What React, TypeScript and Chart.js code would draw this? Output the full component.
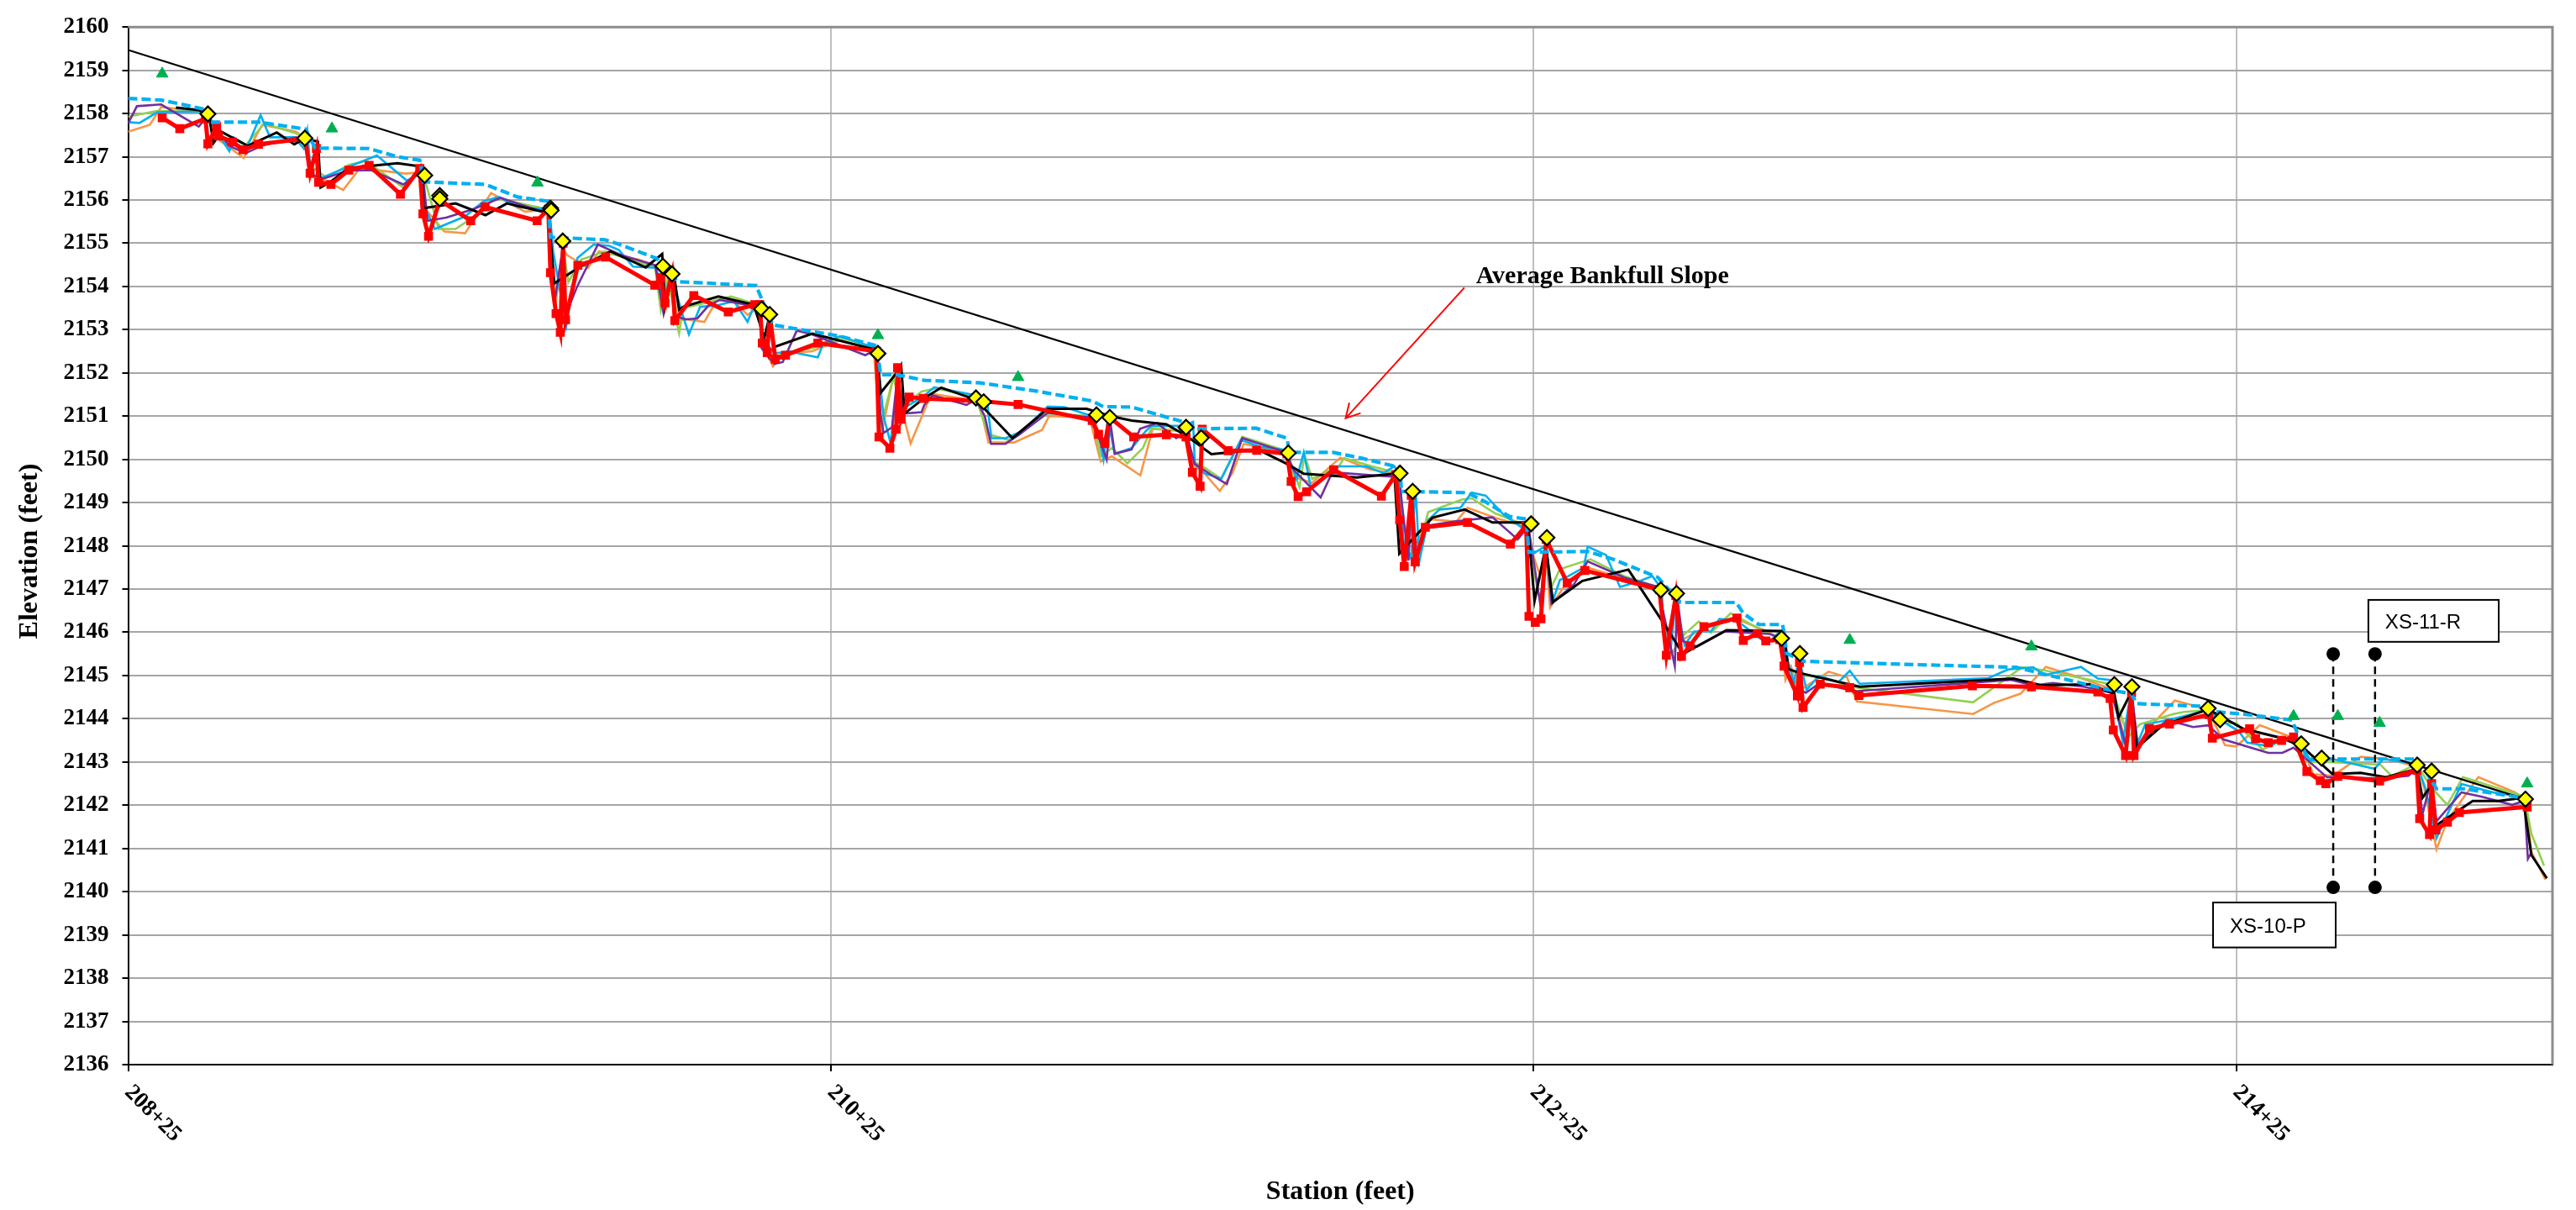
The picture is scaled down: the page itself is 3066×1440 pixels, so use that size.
import React, { useEffect, useRef } from "react";
import { Chart, registerables } from "chart.js";

Chart.register(...registerables);

// ---------- axis ----------
const xMin = 20825;
const xMax = 21515;
const yMin = 2136;
const yMax = 2160;
const xTickValues = [20825, 21025, 21225, 21425];
const xTickLabels = ["208+25", "210+25", "212+25", "214+25"];

// ---------- series: red thalweg (squares) ----------
const redX = [20834.7,20839.7,20847.0,20847.7,20850.2,20850.7,20854.7,20857.7,20862.1,20875.4,20876.8,20878.6,20879.2,20882.7,20887.8,20893.6,20902.5,20908.0,20908.9,20910.5,20913.7,20922.5,20926.6,20941.4,20944.6,20945.2,20946.8,20948.0,20948.8,20949.5,20953.0,20960.9,20974.9,20976.6,20977.8,20979.8,20980.6,20986.0,20995.8,21003.3,21004.8,21005.5,21006.9,21007.6,21009.2,21012.1,21021.3,21038.0,21038.7,21041.8,21043.6,21044.0,21045.0,21047.3,21051.3,21067.5,21078.3,21099.4,21101.2,21103.0,21104.4,21111.2,21120.5,21126.1,21127.9,21130.1,21130.7,21138.1,21146.2,21154.8,21156.0,21158.0,21160.4,21168.1,21181.7,21185.8,21186.9,21188.2,21190.2,21191.3,21194.2,21206.2,21218.4,21222.9,21223.7,21225.5,21227.1,21228.6,21234.6,21239.6,21260.8,21262.8,21265.5,21267.1,21269.5,21273.5,21282.9,21284.7,21288.7,21291.1,21295.1,21296.3,21300.1,21300.7,21301.7,21306.6,21315.0,21317.6,21349.9,21366.7,21385.6,21389.1,21390.0,21393.5,21395.2,21395.9,21400.3,21406.0,21417.2,21418.2,21428.8,21430.5,21434.1,21437.9,21441.3,21445.1,21448.9,21450.5,21453.9,21465.8,21476.4,21477.2,21480.0,21480.6,21481.8,21485.1,21488.5,21507.8];
const redY = [2157.90,2157.65,2157.88,2157.30,2157.70,2157.48,2157.34,2157.16,2157.29,2157.42,2156.62,2157.19,2156.41,2156.36,2156.69,2156.80,2156.13,2156.73,2155.68,2155.16,2156.00,2155.52,2155.84,2155.52,2155.79,2154.32,2153.37,2152.94,2155.00,2153.23,2154.49,2154.68,2154.03,2154.20,2153.62,2154.29,2153.21,2153.79,2153.41,2153.58,2153.58,2152.69,2152.47,2153.35,2152.32,2152.41,2152.69,2152.50,2150.52,2150.26,2150.70,2152.12,2150.93,2151.44,2151.41,2151.35,2151.27,2150.90,2150.58,2150.37,2150.97,2150.52,2150.57,2150.52,2149.70,2149.38,2150.70,2150.20,2150.21,2150.13,2149.49,2149.14,2149.25,2149.76,2149.15,2149.65,2148.60,2147.52,2149.17,2147.63,2148.43,2148.54,2148.04,2148.47,2146.37,2146.23,2146.31,2148.15,2147.14,2147.43,2146.99,2145.47,2146.85,2145.44,2145.69,2146.13,2146.33,2145.81,2145.97,2145.80,2145.83,2145.22,2144.53,2145.30,2144.26,2144.80,2144.72,2144.54,2144.76,2144.74,2144.62,2144.47,2143.74,2143.15,2144.60,2143.15,2143.77,2143.88,2144.10,2143.55,2143.77,2143.54,2143.45,2143.50,2143.58,2142.78,2142.57,2142.50,2142.67,2142.56,2142.81,2141.69,2141.32,2142.50,2141.43,2141.61,2141.83,2141.96];

// ---------- series: black profile ----------
const blackX = [20838.6,20845.1,20848.0,20849.3,20851.5,20859.0,20867.3,20872.3,20875.2,20879.0,20879.8,20882.6,20887.8,20901.7,20908.6,20909.1,20918.2,20926.7,20932.8,20944.6,20946.3,20953.1,20962.3,20972.3,20977.0,20977.8,20980.2,20981.8,20983.0,20993.0,21003.0,21006.1,21007.5,21008.9,21019.7,21038.0,21039.2,21043.6,21045.0,21046.0,21051.6,21056.4,21066.3,21076.7,21086.7,21097.8,21104.6,21110.6,21120.5,21126.1,21133.3,21138.1,21146.5,21155.2,21159.6,21168.0,21174.7,21185.4,21186.8,21196.2,21205.4,21213.3,21223.3,21225.3,21228.5,21230.5,21238.9,21252.0,21262.0,21264.0,21267.5,21279.9,21296.3,21297.5,21300.7,21317.8,21361.6,21369.6,21383.2,21390.3,21391.5,21395.0,21396.7,21403.9,21417.0,21427.0,21438.1,21443.7,21452.4,21460.4,21467.6,21476.4,21478.0,21480.7,21481.8,21492.3,21499.5,21506.6,21509.0,21513.4];
const blackY = [2158.14,2158.08,2157.95,2157.32,2157.58,2157.25,2157.56,2157.29,2157.42,2157.35,2156.29,2156.42,2156.74,2156.85,2156.77,2155.81,2155.92,2155.65,2155.92,2155.70,2154.07,2154.43,2154.81,2154.44,2154.75,2153.53,2154.36,2153.46,2153.53,2153.77,2153.58,2152.82,2153.30,2152.60,2152.91,2152.53,2151.54,2151.99,2152.18,2151.06,2151.42,2151.66,2151.38,2150.49,2151.17,2151.17,2151.00,2150.90,2150.81,2150.55,2150.12,2150.16,2150.23,2149.88,2149.67,2149.62,2149.58,2149.67,2147.82,2148.65,2148.84,2148.54,2148.54,2146.73,2148.00,2146.70,2147.19,2147.45,2146.21,2145.96,2145.50,2146.05,2146.03,2145.15,2145.06,2144.74,2144.93,2144.77,2144.80,2144.58,2144.03,2144.60,2143.33,2143.84,2144.22,2143.77,2143.55,2143.36,2142.72,2142.75,2142.65,2142.84,2142.17,2142.49,2141.53,2142.10,2142.10,2142.17,2140.85,2140.31];

// ---------- series: water surface (cyan dashed) ----------
const wsX = [20825.0,20834.4,20840.0,20847.7,20848.3,20862.2,20875.5,20878.2,20893.6,20901.7,20908.0,20909.1,20926.7,20935.8,20944.6,20945.2,20960.7,20963.9,20975.4,20981.4,21003.7,21008.5,21027.6,21038.0,21039.2,21043.6,21051.6,21067.5,21083.5,21099.4,21102.6,21110.6,21126.5,21128.9,21146.1,21154.8,21155.6,21168.0,21176.0,21187.0,21187.4,21206.2,21211.7,21218.1,21222.9,21223.7,21240.4,21247.6,21260.4,21262.8,21266.8,21282.7,21284.7,21289.1,21295.9,21297.1,21301.9,21330.6,21362.4,21388.7,21395.1,21396.7,21415.0,21417.0,21427.7,21440.9,21445.3,21476.4,21478.7,21482.0,21489.9,21505.8];
const wsY = [2158.35,2158.31,2158.22,2158.08,2157.80,2157.80,2157.64,2157.20,2157.19,2157.00,2156.92,2156.42,2156.36,2156.07,2155.97,2155.14,2155.08,2155.00,2154.65,2154.11,2154.02,2153.11,2152.85,2152.63,2151.96,2151.96,2151.83,2151.77,2151.58,2151.35,2151.22,2151.21,2150.84,2150.71,2150.72,2150.49,2150.16,2150.16,2150.03,2149.81,2149.26,2149.23,2149.00,2148.68,2148.62,2147.85,2147.87,2147.69,2147.27,2147.05,2146.69,2146.69,2146.44,2146.18,2146.18,2145.51,2145.33,2145.26,2145.19,2144.67,2144.58,2144.35,2144.29,2144.18,2144.10,2143.97,2143.07,2143.07,2142.81,2142.38,2142.38,2142.18];

// ---------- series: diamonds ----------
const diamondX = [20847.7,20875.3,20909.4,20913.7,20913.7,20945.2,20945.4,20948.7,20977.2,20979.8,21005.3,21007.6,21038.4,21066.3,21068.5,21100.6,21104.4,21126.1,21130.4,21155.2,21187.0,21190.6,21224.3,21228.8,21261.2,21265.7,21295.6,21300.8,21390.3,21395.3,21417.0,21420.4,21443.5,21449.3,21476.5,21480.6,21507.3];
const diamondY = [2157.99,2157.43,2156.57,2156.10,2156.03,2155.81,2155.76,2155.05,2154.47,2154.29,2153.48,2153.35,2152.45,2151.42,2151.33,2151.03,2150.97,2150.74,2150.50,2150.15,2149.68,2149.26,2148.51,2148.19,2146.98,2146.90,2145.86,2145.51,2144.79,2144.74,2144.24,2143.98,2143.42,2143.09,2142.93,2142.79,2142.14];

// ---------- series: triangles ----------
const triangleX = [20834.7,20883.0,20941.5,21038.4,21078.3,21315.0,21366.7,21441.3,21453.9,21465.8,21507.8];
const triangleY = [2158.92,2157.65,2156.40,2152.87,2151.90,2145.82,2145.67,2144.06,2144.06,2143.90,2142.50];

// ---------- series: orange ----------
const orangeX = [20825.0,20831.2,20834.4,20846.1,20848.8,20851.0,20857.9,20863.2,20872.8,20876.0,20876.6,20880.3,20886.2,20891.0,20903.8,20908.6,20909.7,20915.0,20920.9,20928.3,20937.9,20944.9,20945.4,20946.7,20948.7,20950.0,20955.9,20959.0,20970.3,20976.2,20978.2,20979.8,20981.4,20983.8,20989.0,20992.6,20997.4,21001.3,21004.5,21005.7,21008.5,21011.7,21019.7,21027.6,21037.2,21039.2,21042.8,21045.2,21047.7,21052.4,21054.0,21067.1,21069.9,21077.1,21085.1,21087.1,21098.6,21101.8,21105.0,21113.1,21116.6,21126.1,21128.1,21131.3,21135.7,21139.3,21142.5,21155.2,21156.5,21162.0,21170.0,21178.3,21186.6,21188.0,21189.5,21191.0,21195.0,21203.0,21206.2,21214.1,21222.1,21226.9,21228.5,21229.7,21234.1,21240.4,21250.8,21260.4,21262.8,21265.0,21266.7,21273.1,21282.7,21290.7,21295.5,21296.7,21298.3,21300.3,21309.0,21314.2,21317.0,21350.1,21356.1,21363.6,21370.8,21379.2,21390.0,21393.5,21395.0,21396.3,21400.7,21407.5,21415.0,21417.0,21421.8,21425.0,21431.7,21440.5,21443.5,21446.9,21452.4,21460.4,21467.6,21476.4,21478.5,21482.0,21485.1,21493.9,21504.3,21507.3,21509.0,21513.0];
const orangeY = [2157.58,2157.74,2158.15,2158.04,2157.83,2157.38,2156.97,2157.74,2157.58,2157.38,2156.55,2156.49,2156.23,2156.74,2156.61,2156.64,2155.78,2155.27,2155.23,2156.16,2155.73,2155.78,2154.62,2153.60,2154.88,2154.72,2154.43,2154.81,2154.62,2154.46,2153.53,2154.20,2153.21,2153.24,2153.18,2153.69,2153.66,2153.34,2153.53,2152.69,2152.15,2152.44,2152.50,2152.76,2152.53,2150.51,2151.92,2151.15,2150.37,2151.28,2151.51,2151.35,2150.39,2150.39,2150.68,2151.00,2150.97,2149.95,2150.07,2149.63,2150.71,2150.65,2149.88,2149.68,2149.27,2149.68,2150.36,2150.13,2149.60,2149.46,2150.04,2149.77,2149.65,2147.90,2148.60,2147.95,2148.62,2148.56,2148.88,2148.65,2148.46,2147.30,2147.90,2146.57,2147.11,2147.50,2147.24,2147.05,2145.86,2146.60,2145.80,2146.08,2146.31,2146.05,2145.83,2144.90,2145.20,2144.64,2145.09,2144.96,2144.40,2144.11,2144.37,2144.58,2145.20,2144.99,2144.67,2143.39,2144.30,2143.29,2143.84,2144.42,2144.26,2144.20,2143.39,2143.36,2143.85,2143.58,2143.40,2142.72,2142.68,2143.12,2143.07,2142.90,2142.40,2140.98,2141.66,2142.65,2142.30,2142.14,2140.92,2140.28];

// ---------- series: green ----------
const greenX = [20825.0,20833.3,20846.1,20851.5,20857.9,20863.8,20872.8,20875.5,20876.6,20881.4,20887.8,20892.6,20903.3,20908.6,20913.4,20918.2,20923.0,20929.4,20944.8,20946.5,20948.8,20950.3,20953.9,20960.7,20975.0,20976.6,20978.5,20981.8,20983.0,20987.8,20996.6,21003.7,21006.1,21008.5,21011.5,21019.7,21027.6,21038.0,21039.2,21042.8,21045.2,21047.6,21050.8,21054.8,21066.3,21068.0,21069.9,21075.5,21086.7,21099.4,21101.8,21105.0,21109.4,21113.8,21116.2,21125.7,21128.5,21131.3,21136.1,21142.1,21154.4,21158.4,21159.8,21162.0,21169.6,21171.1,21179.0,21186.6,21188.0,21191.4,21195.0,21204.6,21207.4,21214.1,21222.1,21226.9,21228.6,21230.1,21232.5,21241.2,21250.8,21260.4,21262.8,21264.4,21267.5,21272.0,21275.5,21281.1,21291.0,21295.5,21299.5,21301.0,21306.6,21315.0,21350.1,21364.0,21370.4,21389.1,21394.3,21397.5,21407.1,21410.2,21417.0,21420.0,21425.0,21432.5,21440.5,21445.3,21451.6,21466.0,21469.2,21476.4,21480.3,21485.1,21489.5,21507.0,21509.0,21512.6];
const greenY = [2157.93,2158.06,2158.04,2157.48,2157.22,2157.77,2157.54,2157.40,2156.81,2156.52,2156.81,2156.90,2156.29,2156.71,2155.33,2155.33,2155.59,2156.04,2155.78,2153.72,2154.90,2154.10,2154.62,2154.81,2154.43,2153.46,2154.20,2152.92,2153.50,2153.59,2153.77,2153.59,2152.76,2152.31,2152.46,2152.57,2152.82,2152.57,2150.77,2151.90,2151.20,2151.35,2151.57,2151.64,2151.45,2151.00,2150.58,2150.45,2151.06,2151.00,2150.07,2150.26,2149.91,2150.26,2150.71,2150.65,2149.94,2149.81,2149.55,2150.52,2150.20,2149.36,2150.10,2149.55,2149.84,2150.03,2149.84,2149.68,2148.00,2147.66,2148.78,2149.07,2149.10,2148.75,2148.50,2146.73,2148.00,2147.05,2147.46,2147.69,2147.30,2147.05,2146.02,2145.51,2145.92,2146.25,2145.99,2146.44,2146.00,2145.86,2144.74,2145.00,2144.99,2144.74,2144.38,2145.19,2145.12,2144.80,2143.58,2143.87,2144.11,2144.16,2144.20,2143.90,2143.90,2143.29,2143.60,2143.00,2143.00,2142.94,2142.68,2142.95,2142.43,2142.01,2142.65,2142.20,2141.34,2140.60];

// ---------- series: cyan ----------
const cyanX = [20825.0,20828.2,20833.3,20846.1,20848.5,20853.8,20855.0,20859.0,20862.7,20865.4,20872.3,20875.0,20876.0,20877.0,20880.3,20885.1,20895.8,20904.3,20908.6,20909.7,20912.3,20920.9,20926.2,20930.5,20935.8,20944.9,20946.0,20949.7,20952.9,20957.5,20961.9,20964.7,20968.7,20975.4,20977.2,20979.5,20982.6,20984.6,20987.8,20992.6,20997.4,21001.3,21003.3,21006.0,21009.0,21013.3,21016.5,21021.3,21022.9,21027.6,21038.0,21040.0,21042.0,21044.0,21046.0,21051.3,21054.4,21066.3,21069.5,21070.7,21074.7,21079.5,21086.7,21091.5,21099.4,21101.5,21102.6,21103.8,21105.8,21110.6,21114.6,21116.2,21125.7,21128.1,21128.6,21131.3,21136.1,21141.7,21147.2,21154.4,21157.6,21159.6,21161.6,21169.6,21177.5,21182.3,21185.4,21187.0,21188.0,21190.2,21191.4,21192.5,21195.0,21198.2,21204.2,21207.4,21211.4,21216.5,21222.1,21223.5,21224.5,21228.5,21230.5,21232.5,21234.9,21239.3,21240.4,21245.6,21249.6,21254.8,21258.8,21261.5,21262.0,21264.0,21265.5,21268.0,21270.7,21275.5,21277.9,21282.7,21291.5,21294.7,21296.8,21299.1,21300.6,21302.7,21306.2,21311.8,21315.0,21317.8,21354.5,21360.0,21367.2,21370.4,21380.8,21385.6,21389.0,21390.5,21392.7,21395.2,21396.7,21399.1,21405.5,21415.0,21417.0,21420.0,21425.7,21428.1,21434.9,21438.1,21443.0,21446.1,21452.4,21464.4,21466.8,21476.4,21478.8,21482.0,21485.1,21489.1,21497.9,21505.8];
const cyanY = [2157.80,2157.78,2158.03,2158.05,2157.80,2157.13,2157.45,2157.25,2157.96,2157.45,2157.45,2157.19,2157.60,2156.60,2156.52,2156.68,2157.03,2156.45,2156.64,2155.78,2155.33,2155.62,2155.97,2156.07,2155.84,2155.78,2154.80,2153.08,2154.66,2154.97,2154.94,2154.84,2154.46,2154.43,2153.60,2154.30,2153.40,2152.89,2153.53,2153.56,2153.66,2153.18,2153.58,2152.76,2152.45,2152.50,2152.44,2152.36,2152.69,2152.85,2152.57,2151.00,2150.38,2151.80,2151.20,2151.45,2151.67,2151.48,2151.30,2150.49,2150.49,2150.65,2151.22,2151.21,2151.00,2150.45,2150.00,2150.95,2150.13,2150.26,2150.65,2150.77,2150.78,2150.87,2149.90,2149.68,2149.55,2150.45,2150.29,2150.22,2149.55,2150.16,2149.36,2149.84,2149.84,2149.68,2149.84,2149.60,2148.10,2147.69,2149.39,2147.65,2148.59,2148.84,2148.88,2149.23,2149.16,2148.72,2148.40,2148.50,2147.80,2148.00,2146.73,2147.21,2147.30,2147.50,2147.98,2147.79,2147.05,2147.17,2147.30,2147.00,2146.02,2145.60,2146.70,2145.70,2146.02,2146.02,2146.31,2146.28,2145.73,2145.99,2145.50,2144.83,2145.40,2144.67,2144.99,2144.85,2145.11,2144.81,2144.94,2145.14,2145.19,2145.01,2145.20,2144.93,2144.90,2144.40,2143.45,2144.75,2143.39,2143.87,2143.97,2144.16,2144.20,2144.00,2143.71,2143.45,2143.36,2143.58,2143.45,2143.04,2143.07,2142.84,2143.07,2142.95,2142.40,2141.24,2141.79,2142.49,2142.30,2142.20];

// ---------- series: purple ----------
const purpleX = [20825.0,20827.5,20834.4,20845.1,20847.7,20853.6,20858.4,20863.2,20872.8,20875.2,20876.8,20880.3,20887.8,20894.2,20903.3,20908.8,20910.2,20915.5,20923.0,20931.0,20942.2,20944.9,20946.3,20948.7,20949.5,20952.7,20958.7,20965.5,20975.0,20977.4,20979.8,20980.8,20983.8,20987.0,20990.2,20993.4,21002.1,21004.9,21005.3,21008.9,21011.3,21015.3,21019.7,21034.8,21038.0,21039.2,21040.0,21042.4,21043.9,21046.0,21050.8,21051.6,21054.0,21063.6,21066.3,21068.8,21070.6,21074.7,21078.7,21086.7,21098.6,21101.5,21103.5,21104.5,21105.8,21110.6,21113.0,21117.8,21123.3,21126.1,21128.5,21133.7,21137.7,21142.1,21154.4,21156.8,21164.4,21167.6,21171.1,21184.6,21186.6,21189.4,21190.3,21191.8,21194.2,21203.0,21213.3,21220.5,21223.5,21226.9,21228.6,21230.1,21236.5,21240.4,21250.8,21260.4,21265.2,21265.9,21267.5,21271.5,21279.5,21292.3,21295.5,21297.0,21298.7,21301.0,21302.5,21306.6,21314.6,21317.0,21360.8,21367.2,21372.8,21381.6,21389.5,21393.5,21395.2,21397.0,21402.3,21405.5,21412.7,21417.0,21421.4,21434.1,21438.1,21441.3,21443.8,21450.8,21466.0,21474.0,21476.4,21478.0,21480.5,21482.0,21489.1,21494.7,21503.5,21507.0,21508.0,21509.0];
const purpleY = [2157.77,2158.17,2158.21,2157.70,2157.95,2157.26,2157.08,2157.26,2157.45,2157.40,2156.60,2156.49,2156.68,2156.69,2156.36,2156.66,2155.52,2155.59,2155.78,2156.05,2155.75,2155.80,2153.59,2154.90,2153.34,2153.98,2154.97,2154.72,2154.49,2153.37,2154.25,2153.30,2153.24,2153.26,2153.56,2153.69,2153.56,2153.55,2152.57,2152.21,2152.25,2152.98,2152.89,2152.41,2152.55,2151.00,2150.61,2150.74,2151.90,2151.06,2151.09,2151.26,2151.48,2151.26,2151.38,2151.00,2150.36,2150.36,2150.58,2151.08,2150.97,2150.45,2150.00,2150.90,2150.13,2150.23,2150.71,2150.84,2150.49,2150.65,2149.90,2149.62,2149.43,2150.49,2150.17,2149.75,2149.12,2149.68,2149.68,2149.60,2149.65,2147.66,2149.20,2147.75,2148.46,2148.57,2148.66,2148.15,2148.45,2146.66,2148.00,2146.66,2147.11,2147.64,2147.27,2147.05,2145.22,2146.80,2145.80,2145.67,2146.02,2145.96,2145.86,2145.20,2144.74,2144.66,2144.60,2144.83,2144.67,2144.64,2144.90,2144.77,2144.83,2144.74,2144.60,2143.39,2144.60,2143.39,2143.77,2143.97,2143.81,2143.85,2143.52,2143.21,2143.21,2143.33,2143.15,2142.65,2142.62,2142.68,2142.85,2141.79,2142.60,2141.63,2142.30,2142.20,2142.01,2142.10,2140.76,2140.90];

// ---------- average bankfull slope ----------
const slopeX = [20825, 21507.3];
const slopeY = [2159.47, 2142.14];

// ---------- cross-section markers ----------
const xs10X = [21452.6, 21452.6];
const xs11X = [21464.5, 21464.5];
const xsY = [2145.5, 2140.1];
const xsLabels = ["XS-10-P", "XS-11-R"];

const pts = (xs: number[], ys: number[]) => xs.map((x, i) => ({ x, y: ys[i] }));

const SERIF = '"Liberation Serif", "Times New Roman", serif';

const overlay = {
  id: "overlay",
  afterDraw(chart: any) {
    const { ctx, chartArea: ca, scales } = chart;
    const sx = scales.x;
    const sy = scales.y;
    const px = (v: number) => sx.getPixelForValue(v);
    const py = (v: number) => sy.getPixelForValue(v);
    ctx.save();
    // frame top/right
    ctx.strokeStyle = "#8C8C8C";
    ctx.lineWidth = 3;
    ctx.beginPath();
    ctx.moveTo(ca.left, ca.top);
    ctx.lineTo(ca.right, ca.top);
    ctx.lineTo(ca.right, ca.bottom);
    ctx.stroke();

    // x tick labels (rotated clockwise)
    ctx.fillStyle = "#000";
    ctx.font = `bold 27px ${SERIF}`;
    ctx.textAlign = "left";
    ctx.textBaseline = "middle";
    xTickValues.forEach((v, i) => {
      ctx.save();
      ctx.translate(px(v), ca.bottom + 29);
      ctx.rotate(Math.PI / 4);
      ctx.fillText(xTickLabels[i], 0, 0);
      ctx.restore();
    });

    // axis titles
    ctx.font = `bold 32px ${SERIF}`;
    ctx.textAlign = "center";
    ctx.textBaseline = "middle";
    ctx.fillText("Station (feet)", (ca.left + ca.right) / 2, 1419);
    ctx.save();
    ctx.translate(36, 656);
    ctx.rotate(-Math.PI / 2);
    ctx.fillText("Elevation (feet)", 0, 0);
    ctx.restore();

    // annotation
    ctx.font = `bold 30px ${SERIF}`;
    ctx.textAlign = "left";
    ctx.textBaseline = "alphabetic";
    ctx.fillText("Average Bankfull Slope", px(21208.6), py(2154.08));
    const x0 = px(21205.3), y0 = py(2153.97), x1 = px(21171.5), y1 = py(2150.95);
    ctx.strokeStyle = "#FF0000";
    ctx.lineWidth = 2;
    ctx.beginPath();
    ctx.moveTo(x0, y0);
    ctx.lineTo(x1, y1);
    const ang = Math.atan2(y0 - y1, x0 - x1);
    const L = 19;
    ctx.moveTo(x1 + L * Math.cos(ang - 0.5), y1 + L * Math.sin(ang - 0.5));
    ctx.lineTo(x1, y1);
    ctx.lineTo(x1 + L * Math.cos(ang + 0.5), y1 + L * Math.sin(ang + 0.5));
    ctx.stroke();

    // XS label boxes
    const boxes = [
      { t: xsLabels[1], x1: 21462.6, x2: 21499.7, yT: 2146.75, yB: 2145.78 },
      { t: xsLabels[0], x1: 21418.4, x2: 21453.3, yT: 2139.75, yB: 2138.71 },
    ];
    ctx.font = '24px "Liberation Sans", Arial, sans-serif';
    ctx.textBaseline = "middle";
    boxes.forEach((b) => {
      const l = px(b.x1), r = px(b.x2), t = py(b.yT), bt = py(b.yB);
      ctx.fillStyle = "#fff";
      ctx.fillRect(l, t, r - l, bt - t);
      ctx.strokeStyle = "#000";
      ctx.lineWidth = 2;
      ctx.strokeRect(l, t, r - l, bt - t);
      ctx.fillStyle = "#000";
      ctx.fillText(b.t, l + 20, (t + bt) / 2 + 3);
    });
    ctx.restore();
  },
};

export default function App() {
  const ref = useRef<HTMLCanvasElement>(null);
  useEffect(() => {
    document.body.style.margin = "0";
    const thin = (label: string, xs: number[], ys: number[], color: string, order: number) => ({
      label, data: pts(xs, ys), showLine: true, borderColor: color, backgroundColor: color,
      borderWidth: 2.6, pointRadius: 0, tension: 0, order,
    });
    const chart = new Chart(ref.current as HTMLCanvasElement, {
      type: "scatter",
      data: {
        datasets: [
          thin("Survey A", orangeX, orangeY, "#F79646", 20),
          thin("Survey B", greenX, greenY, "#92D050", 19),
          thin("Survey C", cyanX, cyanY, "#00B0F0", 18),
          thin("Survey D", purpleX, purpleY, "#7030A0", 17),
          { label: "Profile", data: pts(blackX, blackY), showLine: true, borderColor: "#000", borderWidth: 3, pointRadius: 0, order: 16 },
          { label: "Average Bankfull Slope", data: pts(slopeX, slopeY), showLine: true, borderColor: "#000", borderWidth: 2.2, pointRadius: 0, order: 15 },
          { label: "Thalweg", data: pts(redX, redY), showLine: true, borderColor: "#FF0000", backgroundColor: "#FF0000", borderWidth: 5, pointStyle: "rect", pointRadius: 7.5, pointBorderWidth: 0, order: 14 },
          { label: "Water Surface", data: pts(wsX, wsY), showLine: true, borderColor: "#00B0F0", borderWidth: 4.2, borderDash: [11, 5], pointRadius: 0, order: 13 },
          { label: xsLabels[0], data: pts(xs10X, xsY), showLine: true, borderColor: "#000", borderWidth: 2.5, borderDash: [9, 6], pointRadius: 8, pointBackgroundColor: "#000", pointBorderWidth: 0, order: 12 },
          { label: xsLabels[1], data: pts(xs11X, xsY), showLine: true, borderColor: "#000", borderWidth: 2.5, borderDash: [9, 6], pointRadius: 8, pointBackgroundColor: "#000", pointBorderWidth: 0, order: 11 },
          { label: "Bankfull", data: pts(diamondX, diamondY), showLine: false, pointStyle: "rectRot", pointRadius: 9, pointBackgroundColor: "#FFFF00", pointBorderColor: "#000", pointBorderWidth: 2.2, order: 10 },
          { label: "Terrace", data: pts(triangleX, triangleY), showLine: false, pointStyle: "triangle", pointRadius: 8, pointBackgroundColor: "#00B050", pointBorderColor: "#00B050", pointBorderWidth: 1, order: 9 },
        ] as any,
      },
      options: {
        responsive: false,
        animation: false,
        devicePixelRatio: 1,
        layout: { padding: { left: 0, right: 28, top: 20.7, bottom: 0 } },
        plugins: { legend: { display: false }, tooltip: { enabled: false } },
        events: [],
        scales: {
          x: {
            type: "linear",
            min: xMin,
            max: xMax,
            ticks: { display: false },
            afterBuildTicks: (s: any) => { s.ticks = xTickValues.map((v) => ({ value: v })); },
            afterFit: (s: any) => { s.height = 173; },
            grid: { color: "#BFBFBF", lineWidth: 2, tickLength: 8, tickColor: "#000" },
            border: { display: true, color: "#000", width: 2 },
          },
          y: {
            type: "linear",
            min: yMin,
            max: yMax,
            ticks: {
              stepSize: 1, autoSkip: false, padding: 16, color: "#000",
              callback: (v: any) => String(v),
              font: { family: "Liberation Serif", size: 27, weight: "bold" },
            },
            afterFit: (s: any) => { s.width = 152.5; },
            grid: { color: "#A6A6A6", lineWidth: 2, tickLength: 7, tickColor: "#000" },
            border: { display: true, color: "#000", width: 2 },
          },
        },
      } as any,
      plugins: [overlay],
    });
    return () => chart.destroy();
  }, []);
  return (
    <div style={{ position: "fixed", left: 0, top: 0, width: 3066, height: 1440, background: "#fff" }}>
      <canvas ref={ref} width={3066} height={1440} style={{ width: 3066, height: 1440, display: "block" }} />
    </div>
  );
}
